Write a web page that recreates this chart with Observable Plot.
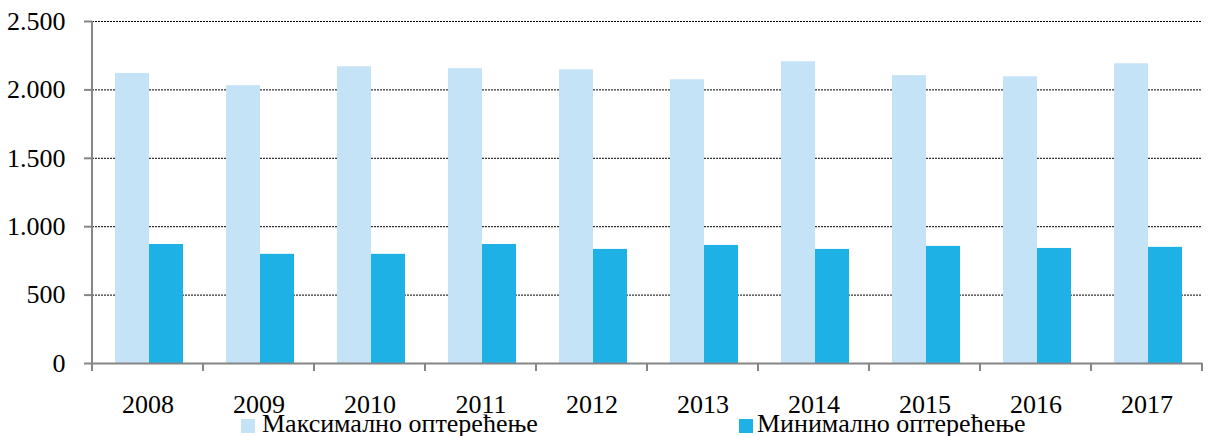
<!DOCTYPE html>
<html>
<head>
<meta charset="utf-8">
<script src="https://cdn.jsdelivr.net/npm/d3@7"></script>
<script src="https://cdn.jsdelivr.net/npm/@observablehq/plot@0.6"></script>
<style>
  html, body { margin: 0; padding: 0; background: #fff; }
  #wrap { position: relative; width: 1208px; height: 436px; font-family: "Liberation Serif", "Times New Roman", serif; }
  .sw { position: absolute; width: 14px; height: 14px; }
  .lt { position: absolute; font-size: 26px; line-height: 26px; color: #000; white-space: nowrap; font-family: "Liberation Serif", serif; }
</style>
</head>
<body>
<div id="wrap"></div>
<script>
const years = ["2008", "2009", "2010", "2011", "2012", "2013", "2014", "2015", "2016", "2017"];
const maxLoad = [2120, 2031, 2169, 2155, 2147, 2074, 2206, 2104, 2096, 2191];
const minLoad = [870, 798, 798, 870, 834, 863, 834, 856, 841, 849];
const seriesNames = ["Максимално оптерећење", "Минимално оптерећење"];
const seriesColors = ["#C5E3F6", "#1DB1E6"];
const yTicks = [0, 500, 1000, 1500, 2000, 2500];

const data = years.flatMap((yr, i) => [
  {year: yr, series: seriesNames[0], value: maxLoad[i]},
  {year: yr, series: seriesNames[1], value: minLoad[i]}
]);

const fmt = d3.formatLocale({decimal: ",", thousands: ".", grouping: [3], currency: ["", ""]}).format(",d");
const axisGray = "#868686";
const serif = "'Liberation Serif', 'Times New Roman', serif";

const chart = Plot.plot({
  width: 1208,
  height: 436,
  marginLeft: 90,
  marginRight: 5,
  marginTop: 21,
  marginBottom: 73,
  style: {fontFamily: serif, fontSize: "26px", color: "#000", background: "#fff"},
  fx: {domain: years, padding: 0, label: null},
  x: {domain: seriesNames, paddingInner: 0, paddingOuter: 0.59, align: 0.53, axis: null},
  y: {domain: [0, 2500], label: null},
  color: {domain: seriesNames, range: seriesColors},
  marks: [
    Plot.gridY({ticks: yTicks.slice(1), stroke: "#000", strokeOpacity: 1, strokeDasharray: "2,1"}),
    Plot.barY(data, {fx: "year", x: "series", y: "value", fill: "series"}),
    Plot.ruleY([0], {stroke: axisGray, strokeWidth: 2}),
    Plot.axisY({ticks: yTicks, tickSize: 8, tickFormat: () => "", stroke: axisGray, strokeWidth: 2, label: null}),
    Plot.axisY({ticks: yTicks, tickSize: 0, tickPadding: 27, tickFormat: fmt, fill: "#000", fontSize: 26, fontFamily: serif, label: null}),
    Plot.axisFx({anchor: "bottom", tickSize: 0, tickPadding: 31, fill: "#000", fontSize: 26, fontFamily: serif, label: null})
  ]
});

// Axis line and category-boundary ticks, positioned through the plot's own scales
const fx = chart.scale("fx");
const ys = chart.scale("y");
const svgEl = chart.tagName.toLowerCase() === "svg" ? chart : chart.querySelector("svg");
const svg = d3.select(svgEl);
const y0 = ys.apply(0);
const x0 = fx.apply(years[0]);
const g = svg.append("g").attr("stroke", axisGray).attr("stroke-width", 2);
g.append("line").attr("x1", x0).attr("x2", x0).attr("y1", ys.apply(2500)).attr("y2", y0);
const bounds = years.map(yr => fx.apply(yr)).concat([fx.apply(years[years.length - 1]) + fx.bandwidth]);
bounds.forEach(bx => {
  g.append("line").attr("x1", bx).attr("x2", bx).attr("y1", y0).attr("y2", y0 + 8);
});

const wrap = document.getElementById("wrap");
wrap.appendChild(chart);
svgEl.style.position = "absolute";
svgEl.style.left = "0";
svgEl.style.top = "0";

// Legend
const legendPos = [{sq: 241, tx: 262}, {sq: 739, tx: 757}];
seriesNames.forEach((name, i) => {
  const sw = document.createElement("div");
  sw.className = "sw";
  sw.style.left = legendPos[i].sq + "px";
  sw.style.top = "419px";
  sw.style.background = seriesColors[i];
  wrap.appendChild(sw);
  const t = document.createElement("div");
  t.className = "lt";
  t.style.left = legendPos[i].tx + "px";
  t.style.top = "411px";
  t.textContent = name;
  wrap.appendChild(t);
});
</script>
</body>
</html>
